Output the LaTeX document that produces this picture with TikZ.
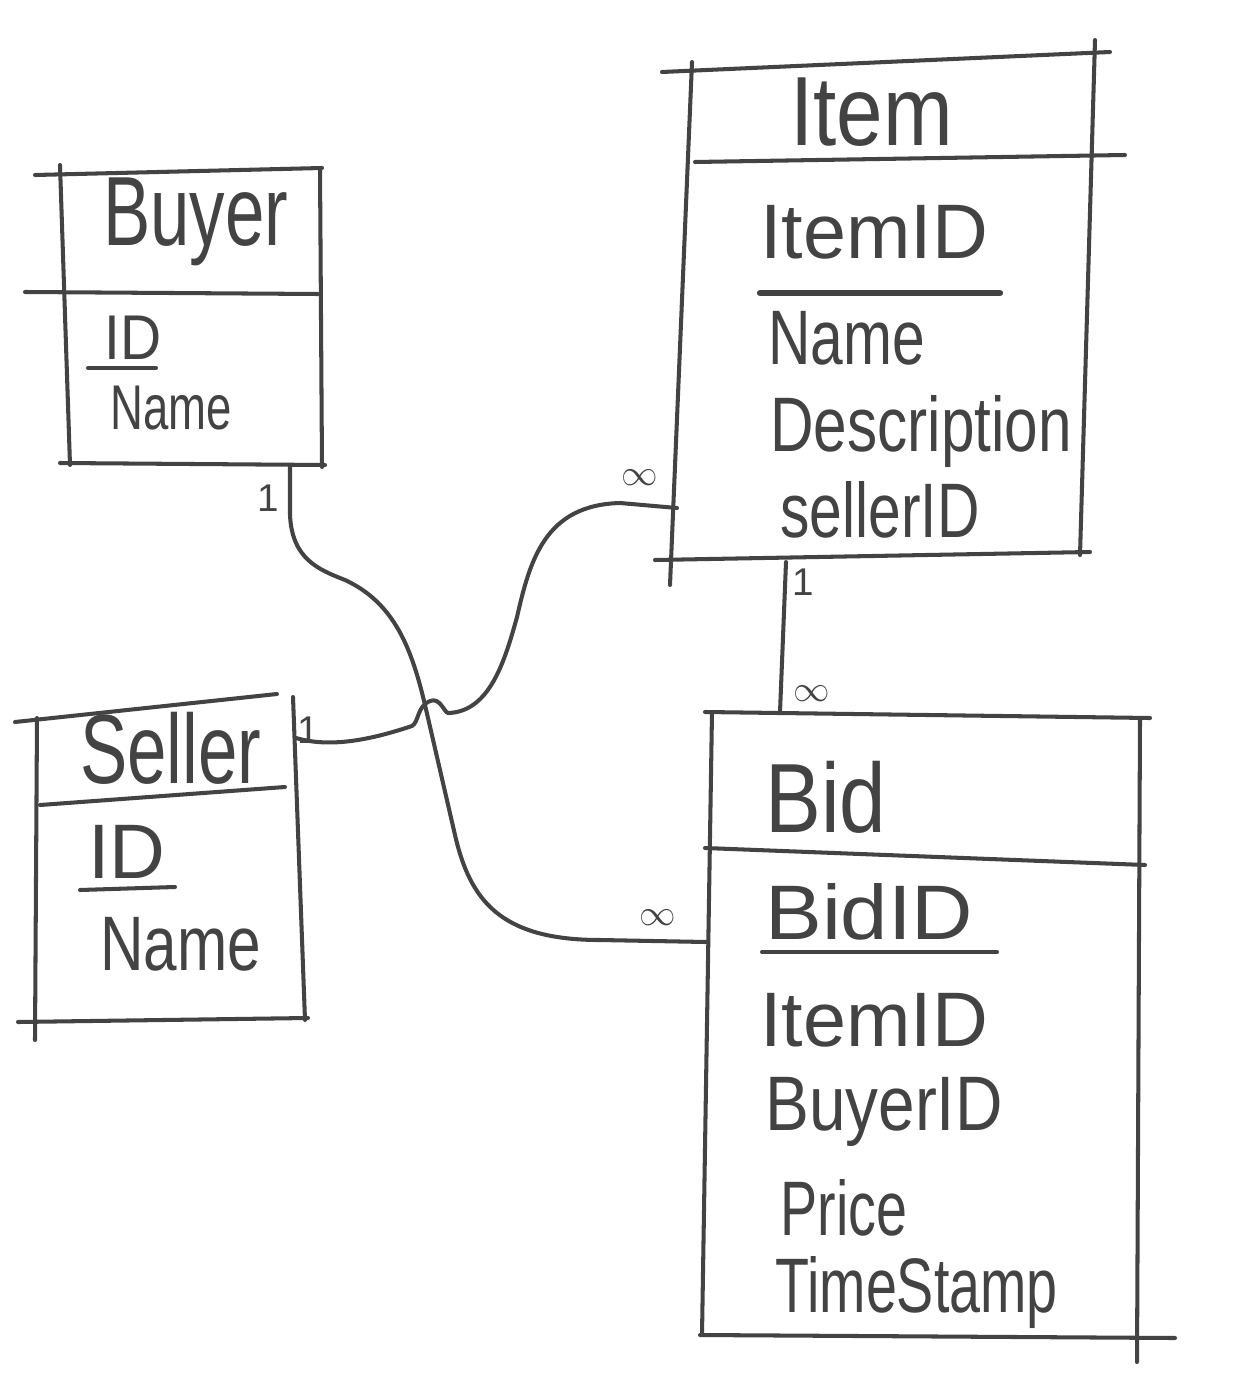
\documentclass[tikz,border=0pt]{standalone}
\usepackage{fontspec}
\setmainfont{Liberation Sans}
\definecolor{ink}{HTML}{434343}
\newcommand{\hw}[2][0.72]{\scalebox{#1}[1]{#2}}
\tikzset{
  pen/.style={draw=ink, line width=2.3pt, line cap=round, line join=round},
  title/.style={anchor=west, inner sep=0pt, text=ink, font=\fontsize{56}{60}\selectfont},
  attr/.style={anchor=west, inner sep=0pt, text=ink, font=\fontsize{44}{50}\selectfont},
  sattr/.style={anchor=west, inner sep=0pt, text=ink, font=\fontsize{36}{40}\selectfont},
  card/.style={inner sep=0pt, text=ink, font=\fontsize{22}{24}\selectfont},
}
\begin{document}
\begin{tikzpicture}[x=0.02cm, y=-0.02cm]
\useasboundingbox (0,0) rectangle (1246,1385);

% ---------- Buyer ----------
\draw[pen] (35,175) -- (322,168);
\draw[pen] (60,165) -- (70,465);
\draw[pen] (320,168) -- (322,467);
\draw[pen] (25,292) -- (318,294);
\draw[pen] (60,463) -- (325,465);
\node[title] (buyerT) at (103,222) {\hw{Buyer}};
\node[sattr] (buyerID) at (104,338) {\hw[0.9]{ID}};
\draw[pen] (88,368) -- (156,368);
\node[sattr] (buyerName) at (110,408) {\hw{Name}};

% ---------- Item ----------
\draw[pen] (662,72) -- (1110,52);
\draw[pen] (692,62) -- (670,585);
\draw[pen] (1095,40) -- (1080,555);
\draw[pen] (695,162) -- (1125,155);
\draw[pen] (655,560) -- (1090,552);
\node[title] (itemT) at (790,112) {\hw[0.85]{Item}};
\node[attr] (itemID) at (760,232) {\hw[1.0]{ItemID}};
\draw[ink, line width=3.6pt, line cap=round] (760,293) -- (1000,293);
\node[attr] (itemName) at (768,338) {\hw[0.76]{Name}};
\node[attr] (itemDesc) at (770,432) {\hw[0.78]{Description}};
\node[attr] (itemSeller) at (780,510) {\hw[0.76]{sellerID}};

% ---------- Seller ----------
\draw[pen] (15,722) -- (277,694);
\draw[pen] (37,718) -- (35,1040);
\draw[pen] (293,697) -- (305,1020);
\draw[pen] (40,805) -- (285,787);
\draw[pen] (18,1022) -- (308,1018);
\node[title] (sellerT) at (80,748) {\hw{Seller}};
\node[attr] (sellerID) at (88,852) {\hw[1.0]{ID}};
\draw[pen] (80,890) -- (175,887);
\node[attr] (sellerName) at (100,944) {\hw[0.78]{Name}};

% ---------- Bid ----------
\draw[pen] (705,712) -- (1150,718);
\draw[pen] (712,712) -- (702,1335);
\draw[pen] (1140,718) -- (1137,1362);
\draw[pen] (705,848) -- (1145,865);
\draw[pen] (700,1335) -- (1175,1338);
\node[title] (bidT) at (765,797) {\hw[0.85]{Bid}};
\node[attr] (bidID) at (765,912) {\hw[1.1]{BidID}};
\draw[pen] (762,952) -- (997,952);
\node[attr] (bidItem) at (760,1020) {\hw[1.0]{ItemID}};
\node[attr] (bidBuyer) at (765,1112) {\hw[0.85]{BuyerID}};
\node[attr] (bidPrice) at (780,1208) {\hw{Price}};
\node[attr] (bidTime) at (775,1292) {\hw{TimeStamp}};

% ---------- connection points ----------
\coordinate (buyerB) at (290,465);
\coordinate (bidL) at (706,942);
\coordinate (sellerR) at (296,738);
\coordinate (itemL) at (677,508);
\coordinate (itemB) at (786,562);
\coordinate (bidTop) at (780,712);

% Buyer -- Bid
\draw[pen] (buyerB) -- (290,515) .. controls (292,560) and (320,570) .. (345,580)
  .. controls (395,603) and (412,650) .. (425,705) -- (455,835)
  .. controls (470,900) and (500,940) .. (600,940) -- (bidL);
% Seller -- Item (with hop)
\draw[pen] (sellerR) .. controls (330,748) and (370,740) .. (412,726)
  .. controls (419,722) and (417,706) .. (430,701)
  .. controls (440,697) and (444,712) .. (448,713)
  .. controls (490,712) and (505,660) .. (517,617)
  .. controls (530,560) and (545,505) .. (620,503) -- (itemL);
% Item -- Bid
\draw[pen] (itemB) -- (bidTop);

% cardinalities
\node[card] (c1) at (268,498) {1};
\node[card] (c2) at (640,478) {$\infty$};
\node[card] (c3) at (308,730) {1};
\node[card] (c4) at (658,918) {$\infty$};
\node[card] (c5) at (803,582) {1};
\node[card] (c6) at (812,694) {$\infty$};
\end{tikzpicture}
\end{document}
